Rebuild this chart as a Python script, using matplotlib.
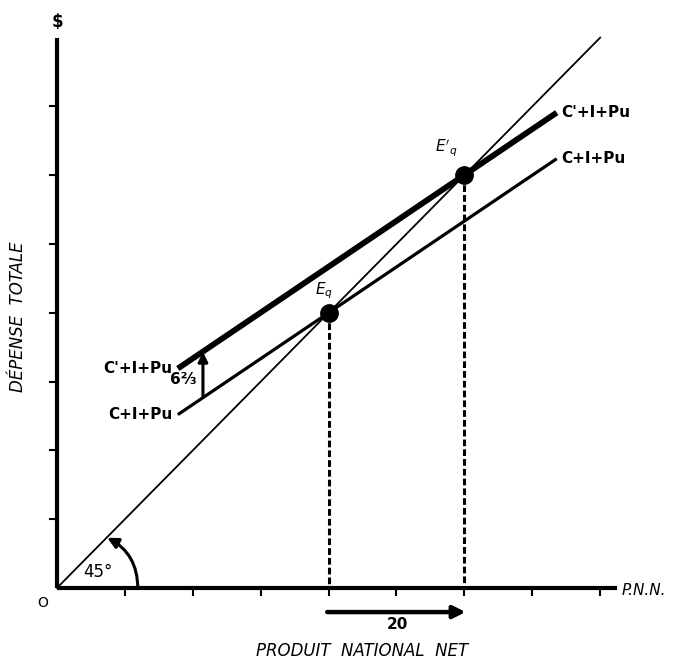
import matplotlib.pyplot as plt
from matplotlib.patches import FancyArrowPatch

# values (1 tick = 10)
x_ticks = [10, 20, 30, 40, 50, 60, 70, 80]
y_ticks = [10, 20, 30, 40, 50, 60, 70]
line45_x = [0, 80]
line45_y = [0, 80]
cip_x = [17.8, 73.6]
cip_y = [25.2, 62.4]
cip2_x = [17.8, 73.6]
cip2_y = [31.9, 69.1]
eq_x = [40, 60]
eq_y = [40, 60]
shift_x = 21.5
shift_from = 27.7
shift_to = 34.3
pnn_from = 40
pnn_to = 60

fig = plt.figure(figsize=(6.78, 6.66), dpi=100)
ax = fig.add_axes([0, 0, 1, 1])
ax.set_xlim(-8.39, 91.46)
ax.set_ylim(-11.34, 85.47)
ax.axis('off')

k = 'black'
# axes
ax.plot([0, 82.5], [0, 0], color=k, lw=3, solid_capstyle='butt')
ax.plot([0, 0], [0, 80], color=k, lw=3, solid_capstyle='butt')
for t in x_ticks:
    ax.plot([t, t], [0, -1.0], color=k, lw=1.5)
for t in y_ticks:
    ax.plot([0, -1.1], [t, t], color=k, lw=1.5)

# lines
ax.plot(line45_x, line45_y, color=k, lw=1.3)
ax.plot(cip_x, cip_y, color=k, lw=2.3, solid_capstyle='butt')
ax.plot(cip2_x, cip2_y, color=k, lw=4.2, solid_capstyle='butt')

# dashed drops
for xe, ye in zip(eq_x, eq_y):
    ax.plot([xe, xe], [ye, 0], color=k, lw=2.2, linestyle=(0, (2.2, 1)))
ax.plot(eq_x, eq_y, 'o', color=k, markersize=12.5)

# labels
fs = 11
ax.text(17.0, cip2_y[0], "C'+I+Pu", fontsize=fs, ha='right', va='center', fontweight='bold')
ax.text(17.0, cip_y[0], "C+I+Pu", fontsize=fs, ha='right', va='center', fontweight='bold')
ax.text(74.3, cip2_y[1], "C'+I+Pu", fontsize=fs, ha='left', va='center', fontweight='bold')
ax.text(74.3, cip_y[1], "C+I+Pu", fontsize=fs, ha='left', va='center', fontweight='bold')
ax.text(39.3, 41.7, r"$E_q$", fontsize=11, ha='center', va='bottom')
ax.text(57.4, 62.3, r"$E'_q$", fontsize=11, ha='center', va='bottom')

# shift arrow
ax.annotate('', xy=(shift_x, shift_to), xytext=(shift_x, shift_from),
            arrowprops=dict(arrowstyle='-|>', color=k, lw=2.2, mutation_scale=14,
                            shrinkA=0, shrinkB=0))
ax.text(shift_x - 0.9, 30.3, '6⅔', fontsize=fs,
        ha='right', va='center', fontweight='bold')

# 45 degree arc
arc = FancyArrowPatch((11.9, 0), (7.4, 7.3), connectionstyle='arc3,rad=0.3',
                      arrowstyle='-|>', mutation_scale=16, color=k, lw=2.2,
                      shrinkA=0, shrinkB=0)
ax.add_patch(arc)
ax.text(6.0, 2.3, '45°', fontsize=12, ha='center', va='center')

# PNN change arrow
ax.annotate('', xy=(pnn_to + 0.2, -3.5), xytext=(pnn_from - 0.2, -3.5),
            arrowprops=dict(arrowstyle='-|>', color=k, lw=3.2, mutation_scale=18,
                            shrinkA=0, shrinkB=0))
ax.text(50.1, -5.3, '20', fontsize=fs, ha='center', va='center', fontweight='bold')

# axis titles
ax.text(-2.1, -2.2, 'O', fontsize=10, ha='center', va='center')
ax.text(0, 82.3, '$', fontsize=12, ha='center', va='center', fontweight='bold')
ax.text(86.5, -0.3, 'P.N.N.', fontsize=11, ha='center', va='center', style='italic')
ax.text(45.0, -9.2, 'PRODUIT  NATIONAL  NET', fontsize=12, ha='center', va='center',
        style='italic')
ax.text(-5.8, 39.4, 'DÉPENSE  TOTALE', fontsize=12, ha='center', va='center',
        style='italic', rotation=90)

fig.savefig('out.png', dpi=100)
